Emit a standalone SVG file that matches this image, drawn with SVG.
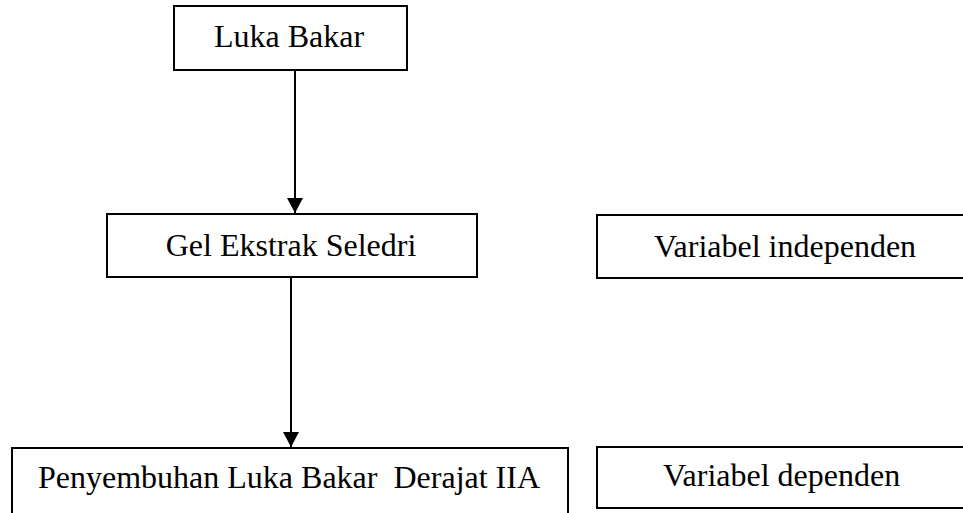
<svg xmlns="http://www.w3.org/2000/svg" width="963" height="513" viewBox="0 0 963 513">
<style>
.box{fill:#fff;stroke:#000;stroke-width:2}
.lbl{font-family:"Liberation Serif","Times New Roman",serif;font-size:32px;fill:#000}
.conn{stroke:#000;stroke-width:2;fill:none}
</style>
<defs>
<marker id="arr" markerUnits="userSpaceOnUse" markerWidth="16" markerHeight="16" refX="15" refY="8" orient="auto">
<path d="M0,0 L15,8 L0,16 Z" fill="#000"/>
</marker>
</defs>
<rect width="963" height="513" fill="#fff"/>
<g id="node-luka-bakar">
<rect class="box" x="174" y="6" width="233" height="64"/>
<text class="lbl" x="289" y="47" text-anchor="middle">Luka Bakar</text>
</g>
<g id="node-gel">
<rect class="box" x="107" y="214" width="370" height="63"/>
<text class="lbl" x="291" y="256" text-anchor="middle">Gel Ekstrak Seledri</text>
</g>
<g id="node-penyembuhan">
<rect class="box" x="12" y="448" width="556" height="80"/>
<text class="lbl" x="38" y="488" xml:space="preserve">Penyembuhan Luka Bakar  Derajat IIA</text>
</g>
<g id="node-var-independen">
<rect class="box" x="597" y="215" width="380" height="63"/>
<text class="lbl" x="654" y="257">Variabel independen</text>
</g>
<g id="node-var-dependen">
<rect class="box" x="597" y="447" width="380" height="61"/>
<text class="lbl" x="663" y="486">Variabel dependen</text>
</g>
<g id="connectors">
<line class="conn" x1="295" y1="70" x2="295" y2="213" marker-end="url(#arr)"/>
<line class="conn" x1="291" y1="277" x2="291" y2="447" marker-end="url(#arr)"/>
</g>
</svg>
